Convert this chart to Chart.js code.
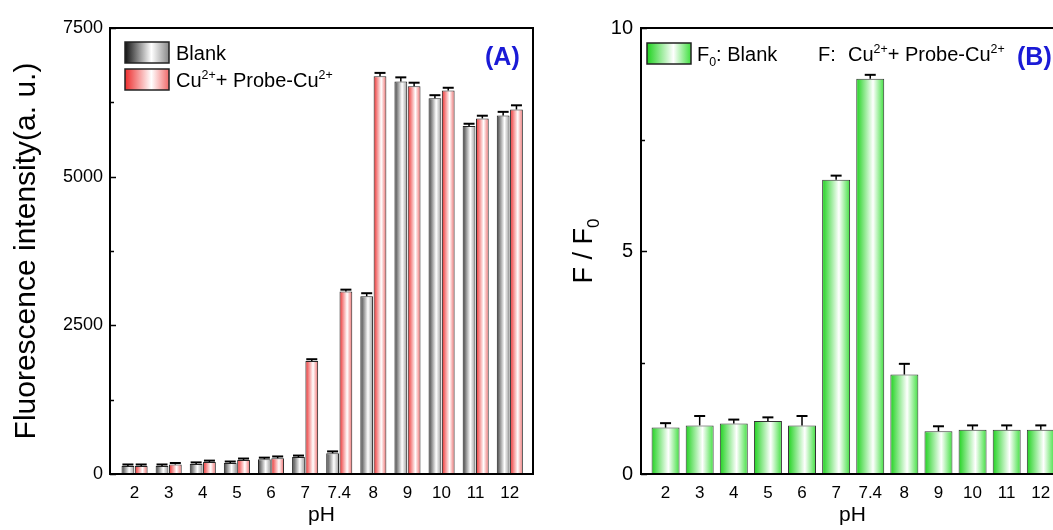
<!DOCTYPE html>
<html>
<head>
<meta charset="utf-8">
<script src="https://cdn.jsdelivr.net/npm/chart.js@4.4.0/dist/chart.umd.min.js"></script>
<style>
  html, body { margin: 0; padding: 0; background: #fff; overflow: hidden; }
  #wrapA { position: absolute; left: 0; top: 0; width: 560px; height: 530px; }
  #wrapB { position: absolute; left: 560px; top: 0; width: 520px; height: 530px; }
</style>
</head>
<body>
<div id="wrapA"><canvas id="chartA"></canvas></div>
<div id="wrapB"><canvas id="chartB"></canvas></div>
<script>
// data
const phLabels = ['2', '3', '4', '5', '6', '7', '7.4', '8', '9', '10', '11', '12'];
const blank    = [135, 135, 170, 185, 250, 285, 350, 2990, 6600, 6320, 5850, 6030];
const blankErr = [25, 25, 25, 25, 25, 25, 30, 50, 70, 50, 40, 60];
const probe    = [135, 160, 200, 235, 265, 1900, 3070, 6690, 6520, 6450, 5980, 6130];
const probeErr = [25, 25, 25, 25, 30, 30, 30, 55, 60, 45, 45, 70];
const ratio    = [1.04, 1.09, 1.13, 1.19, 1.09, 6.60, 8.86, 2.23, 0.96, 0.99, 0.99, 0.99];
const ratioErr = [0.10, 0.21, 0.09, 0.08, 0.21, 0.09, 0.09, 0.24, 0.11, 0.10, 0.10, 0.10];

const FONT = '"Liberation Sans", Arial, sans-serif';
Chart.defaults.font.family = FONT;
Chart.defaults.color = '#000';

const toXY = (arr) => arr.map((v, i) => ({ x: i, y: v }));

// colour stops for the shaded bars (left edge -> white -> right edge)
const shades = {
  grey:  ['#3c3c3c', '#ffffff', '#9a9a9a'],
  red:   ['#ec2c2c', '#ffffff', '#f06a6a'],
  green: ['#1fd21f', '#ffffff', '#40e040']
};

function makeGrad(ctx, x0, x1, stops) {
  const g = ctx.createLinearGradient(x0, 0, x1, 0);
  g.addColorStop(0, stops[0]);
  g.addColorStop(0.6, stops[1]);
  g.addColorStop(1, stops[2]);
  return g;
}

// text with super/subscripts, y is the baseline
function drawRich(ctx, x, y, parts, size) {
  ctx.textAlign = 'left';
  ctx.textBaseline = 'alphabetic';
  parts.forEach(p => {
    const s = (p.sup || p.sub) ? size * 0.62 : size;
    ctx.font = (p.bold ? 'bold ' : '') + s + 'px ' + FONT;
    const dy = p.sup ? -size * 0.4 : (p.sub ? size * 0.25 : 0);
    ctx.fillText(p.t, x, y + dy);
    x += ctx.measureText(p.t).width;
  });
  return x;
}

const gradientBars = {
  id: 'gradientBars',
  beforeDatasetsDraw(chart) {
    const ctx = chart.ctx;
    chart.data.datasets.forEach((ds, di) => {
      const meta = chart.getDatasetMeta(di);
      meta.data.forEach(el => {
        const { x, width } = el.getProps(['x', 'width'], true);
        const g = makeGrad(ctx, x - width / 2, x + width / 2, shades[ds.shade]);
        el.options = Object.assign({}, el.options, { backgroundColor: g });
      });
    });
  }
};

const errorBars = {
  id: 'errorBars',
  afterDatasetsDraw(chart, args, opts) {
    const ctx = chart.ctx;
    const y = chart.scales.y;
    ctx.save();
    ctx.strokeStyle = '#000';
    chart.data.datasets.forEach((ds, di) => {
      const meta = chart.getDatasetMeta(di);
      meta.data.forEach((el, i) => {
        const top = el.y;
        const et = y.getPixelForValue(ds.data[i].y + ds.errors[i]);
        ctx.lineWidth = 1.5;
        ctx.beginPath();
        ctx.moveTo(el.x, top);
        ctx.lineTo(el.x, et);
        ctx.stroke();
        ctx.lineWidth = 2;
        ctx.beginPath();
        ctx.moveTo(el.x - opts.cap / 2, et);
        ctx.lineTo(el.x + opts.cap / 2, et);
        ctx.stroke();
      });
    });
    ctx.restore();
  }
};

// box around the plot with inward ticks
const frame = {
  id: 'frame',
  afterDraw(chart, args, opts) {
    const ctx = chart.ctx;
    const a = chart.chartArea;
    const y = chart.scales.y;
    ctx.save();
    ctx.strokeStyle = '#000';
    ctx.lineWidth = 2;
    ctx.strokeRect(a.left, a.top, a.right - a.left, a.bottom - a.top);
    ctx.lineWidth = 1.5;
    for (let v = y.min; v <= y.max + 1e-9; v += opts.minor) {
      const py = Math.round(y.getPixelForValue(v)) + 0.5;
      const major = Math.abs(v / opts.major - Math.round(v / opts.major)) < 1e-6;
      const len = major ? 6 : 4;
      ctx.beginPath();
      ctx.moveTo(a.left, py);
      ctx.lineTo(a.left + len, py);
      ctx.stroke();
    }
    ctx.restore();
  }
};

const legendA = {
  id: 'legendA',
  afterDraw(chart) {
    const ctx = chart.ctx;
    ctx.save();
    ctx.strokeStyle = '#222';
    ctx.lineWidth = 1.5;
    ctx.fillStyle = makeGrad(ctx, 125, 169, ['#111111', '#ffffff', '#888888']);
    ctx.fillRect(125, 42, 44, 21);
    ctx.strokeRect(125, 42, 44, 21);
    ctx.fillStyle = makeGrad(ctx, 125, 169, shades.red);
    ctx.fillRect(125, 69, 44, 21);
    ctx.strokeRect(125, 69, 44, 21);
    ctx.fillStyle = '#000';
    drawRich(ctx, 176, 60, [{ t: 'Blank' }], 20);
    drawRich(ctx, 176, 87, [{ t: 'Cu' }, { t: '2+', sup: true }, { t: '+ Probe-Cu' }, { t: '2+', sup: true }], 20);
    ctx.fillStyle = '#1a1ad6';
    drawRich(ctx, 485, 65, [{ t: '(A)', bold: true }], 25);
    ctx.restore();
  }
};

const legendB = {
  id: 'legendB',
  afterDraw(chart) {
    const ctx = chart.ctx;
    const a = chart.chartArea;
    ctx.save();
    ctx.strokeStyle = '#222';
    ctx.lineWidth = 1.5;
    ctx.fillStyle = makeGrad(ctx, 87, 131, shades.green);
    ctx.fillRect(87, 43, 44, 21);
    ctx.strokeRect(87, 43, 44, 21);
    ctx.fillStyle = '#000';
    drawRich(ctx, 137, 61, [{ t: 'F' }, { t: '0', sub: true }, { t: ': Blank' }], 20);
    drawRich(ctx, 258, 61, [{ t: 'F:' }], 20);
    drawRich(ctx, 288, 61, [{ t: 'Cu' }, { t: '2+', sup: true }, { t: '+ Probe-Cu' }, { t: '2+', sup: true }], 20);
    ctx.fillStyle = '#1a1ad6';
    drawRich(ctx, 457, 65, [{ t: '(B)', bold: true }], 25);
    // y title with subscript
    ctx.fillStyle = '#000';
    ctx.translate(32, (a.top + a.bottom) / 2);
    ctx.rotate(-Math.PI / 2);
    const parts = [{ t: 'F / F' }, { t: '0', sub: true }];
    ctx.font = '27px ' + FONT;
    let w = ctx.measureText('F / F').width;
    ctx.font = (27 * 0.62) + 'px ' + FONT;
    w += ctx.measureText('0').width;
    drawRich(ctx, -w / 2, 0, parts, 27);
    ctx.restore();
  }
};

function xScale() {
  return {
    type: 'linear',
    offset: false,
    min: -0.72,
    max: 11.68,
    grid: { display: false, drawTicks: false },
    border: { display: false },
    afterBuildTicks: (s) => { s.ticks = phLabels.map((_, i) => ({ value: i })); },
    afterFit: (s) => { s.height = 56; },
    ticks: {
      autoSkip: false,
      maxRotation: 0,
      padding: 9,
      font: { size: 17 },
      callback: (v) => phLabels[v]
    },
    title: { display: true, text: 'pH', font: { size: 21 }, padding: { top: 0, bottom: 2 } }
  };
}

new Chart(document.getElementById('chartA'), {
  type: 'bar',
  data: {
    datasets: [
      { label: 'Blank', data: toXY(blank), errors: blankErr, shade: 'grey',
        borderColor: '#222', borderWidth: 1, categoryPercentage: 0.78, barPercentage: 0.96 },
      { label: 'Cu2+ + Probe-Cu2+', data: toXY(probe), errors: probeErr, shade: 'red',
        borderColor: '#222', borderWidth: 1, categoryPercentage: 0.78, barPercentage: 0.96 }
    ]
  },
  options: {
    responsive: true,
    maintainAspectRatio: false,
    animation: false,
    layout: { padding: { left: 0, top: 28, right: 27, bottom: 0 } },
    plugins: {
      legend: { display: false },
      tooltip: { enabled: false },
      errorBars: { cap: 11 },
      frame: { major: 2500, minor: 1250 }
    },
    scales: {
      x: xScale(),
      y: {
        min: 0,
        max: 7500,
        grid: { display: false, drawTicks: false },
        border: { display: false },
        afterFit: (s) => { s.width = 110; },
        ticks: {
          stepSize: 1250,
          padding: 7,
          font: { size: 18 },
          callback: (v) => (v % 2500 === 0 ? v : '')
        },
        title: {
          display: true,
          text: 'Fluorescence intensity(a. u.)',
          font: { size: 30 },
          padding: { top: 9, bottom: 0 }
        }
      }
    }
  },
  plugins: [gradientBars, errorBars, frame, legendA]
});

new Chart(document.getElementById('chartB'), {
  type: 'bar',
  data: {
    datasets: [
      { label: 'F / F0', data: toXY(ratio), errors: ratioErr, shade: 'green',
        borderColor: '#333', borderWidth: 1, categoryPercentage: 0.82, barPercentage: 1 }
    ]
  },
  options: {
    responsive: true,
    maintainAspectRatio: false,
    animation: false,
    layout: { padding: { left: 0, top: 28, right: 16, bottom: 0 } },
    plugins: {
      legend: { display: false },
      tooltip: { enabled: false },
      errorBars: { cap: 11 },
      frame: { major: 5, minor: 2.5 }
    },
    scales: {
      x: xScale(),
      y: {
        min: 0,
        max: 10,
        grid: { display: false, drawTicks: false },
        border: { display: false },
        afterFit: (s) => { s.width = 81; },
        ticks: {
          stepSize: 2.5,
          padding: 8,
          font: { size: 20 },
          callback: (v) => (v % 5 === 0 ? v : '')
        }
      }
    }
  },
  plugins: [gradientBars, errorBars, frame, legendB]
});
</script>
</body>
</html>
